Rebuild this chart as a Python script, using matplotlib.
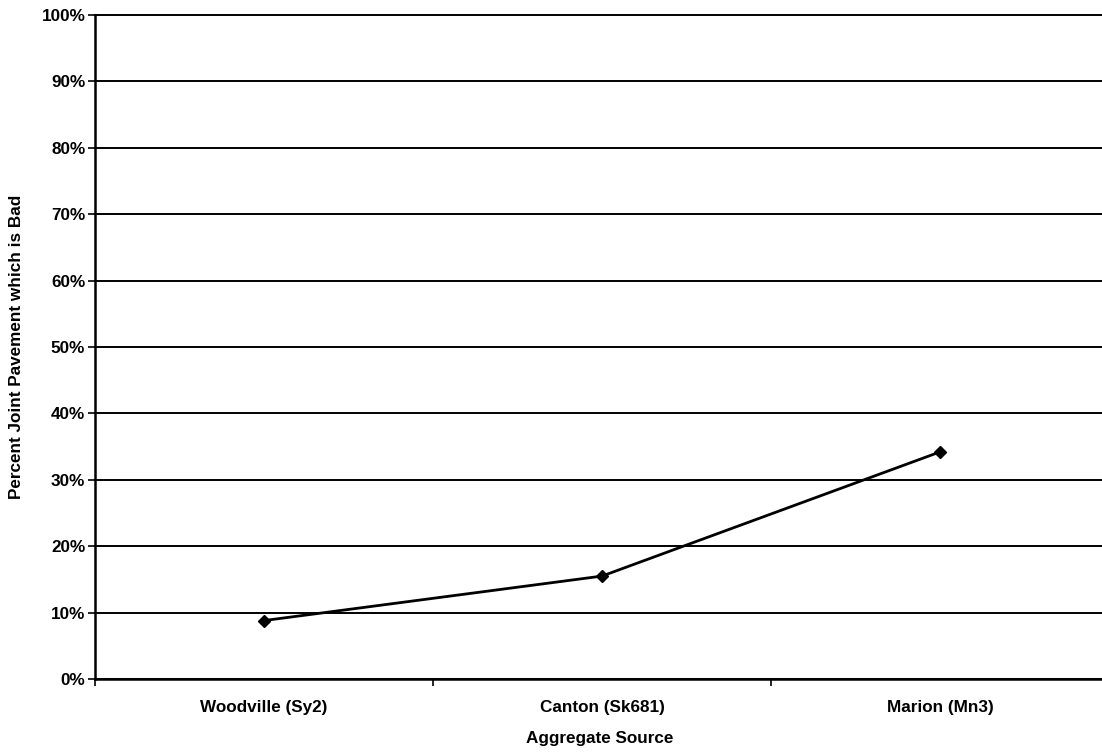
import matplotlib
matplotlib.use('Agg')
import matplotlib.pyplot as plt
from matplotlib.ticker import FixedLocator, PercentFormatter

# values
sources = ['Woodville (Sy2)', 'Canton (Sk681)', 'Marion (Mn3)']
pct_bad = [8.8, 15.5, 34.2]
y_ticks = list(range(0, 101, 10))

W, H = 1102, 755
fig = plt.figure(figsize=(W / 100, H / 100), dpi=100)
plt.rcParams['font.family'] = ['Liberation Sans', 'DejaVu Sans']
fs = 12.3

# axes frame in pixels: left 95, right ~1109 (runs off the page), top 15, bottom 679
ax = fig.add_axes([95 / W, (H - 679) / H, 1014 / W, 664 / H])

x = list(range(len(sources)))
ax.plot(x, pct_bad, color='black', lw=2, marker='D', ms=6.5, zorder=3)

ax.set_xlim(-0.5, len(sources) - 0.5)
ax.set_ylim(0, 100)
ax.set_yticks(y_ticks)
ax.yaxis.set_major_formatter(PercentFormatter(decimals=0))
ax.yaxis.grid(True, color='black', lw=1.4)
for gl in ax.get_ygridlines():
    gl.set_clip_on(False)
ax.set_axisbelow(True)

# category labels centred, tick marks at the boundaries (excel style)
ax.set_xticks(x)
ax.set_xticklabels(sources, fontsize=fs, fontweight='bold')
ax.tick_params(axis='x', which='major', length=0, pad=15)
ax.xaxis.set_minor_locator(FixedLocator([i - 0.5 for i in range(len(sources) + 1)]))
ax.tick_params(axis='x', which='minor', length=5, width=1.2, direction='out')
ax.tick_params(axis='y', length=5, width=1.2, labelsize=fs, pad=2)
for lab in ax.get_yticklabels():
    lab.set_fontweight('bold')

for side in ['top', 'right']:
    ax.spines[side].set_visible(False)
ax.spines['left'].set_linewidth(1.8)
ax.spines['bottom'].set_linewidth(1.8)

fig.text(600 / W, 1 - 739 / H, 'Aggregate Source', ha='center', va='center',
         fontsize=fs, fontweight='bold')
fig.text(17 / W, 1 - 347 / H, 'Percent Joint Pavement which is Bad', ha='center',
         va='center', rotation=90, fontsize=fs, fontweight='bold')

fig.savefig('out.png', dpi=100)
